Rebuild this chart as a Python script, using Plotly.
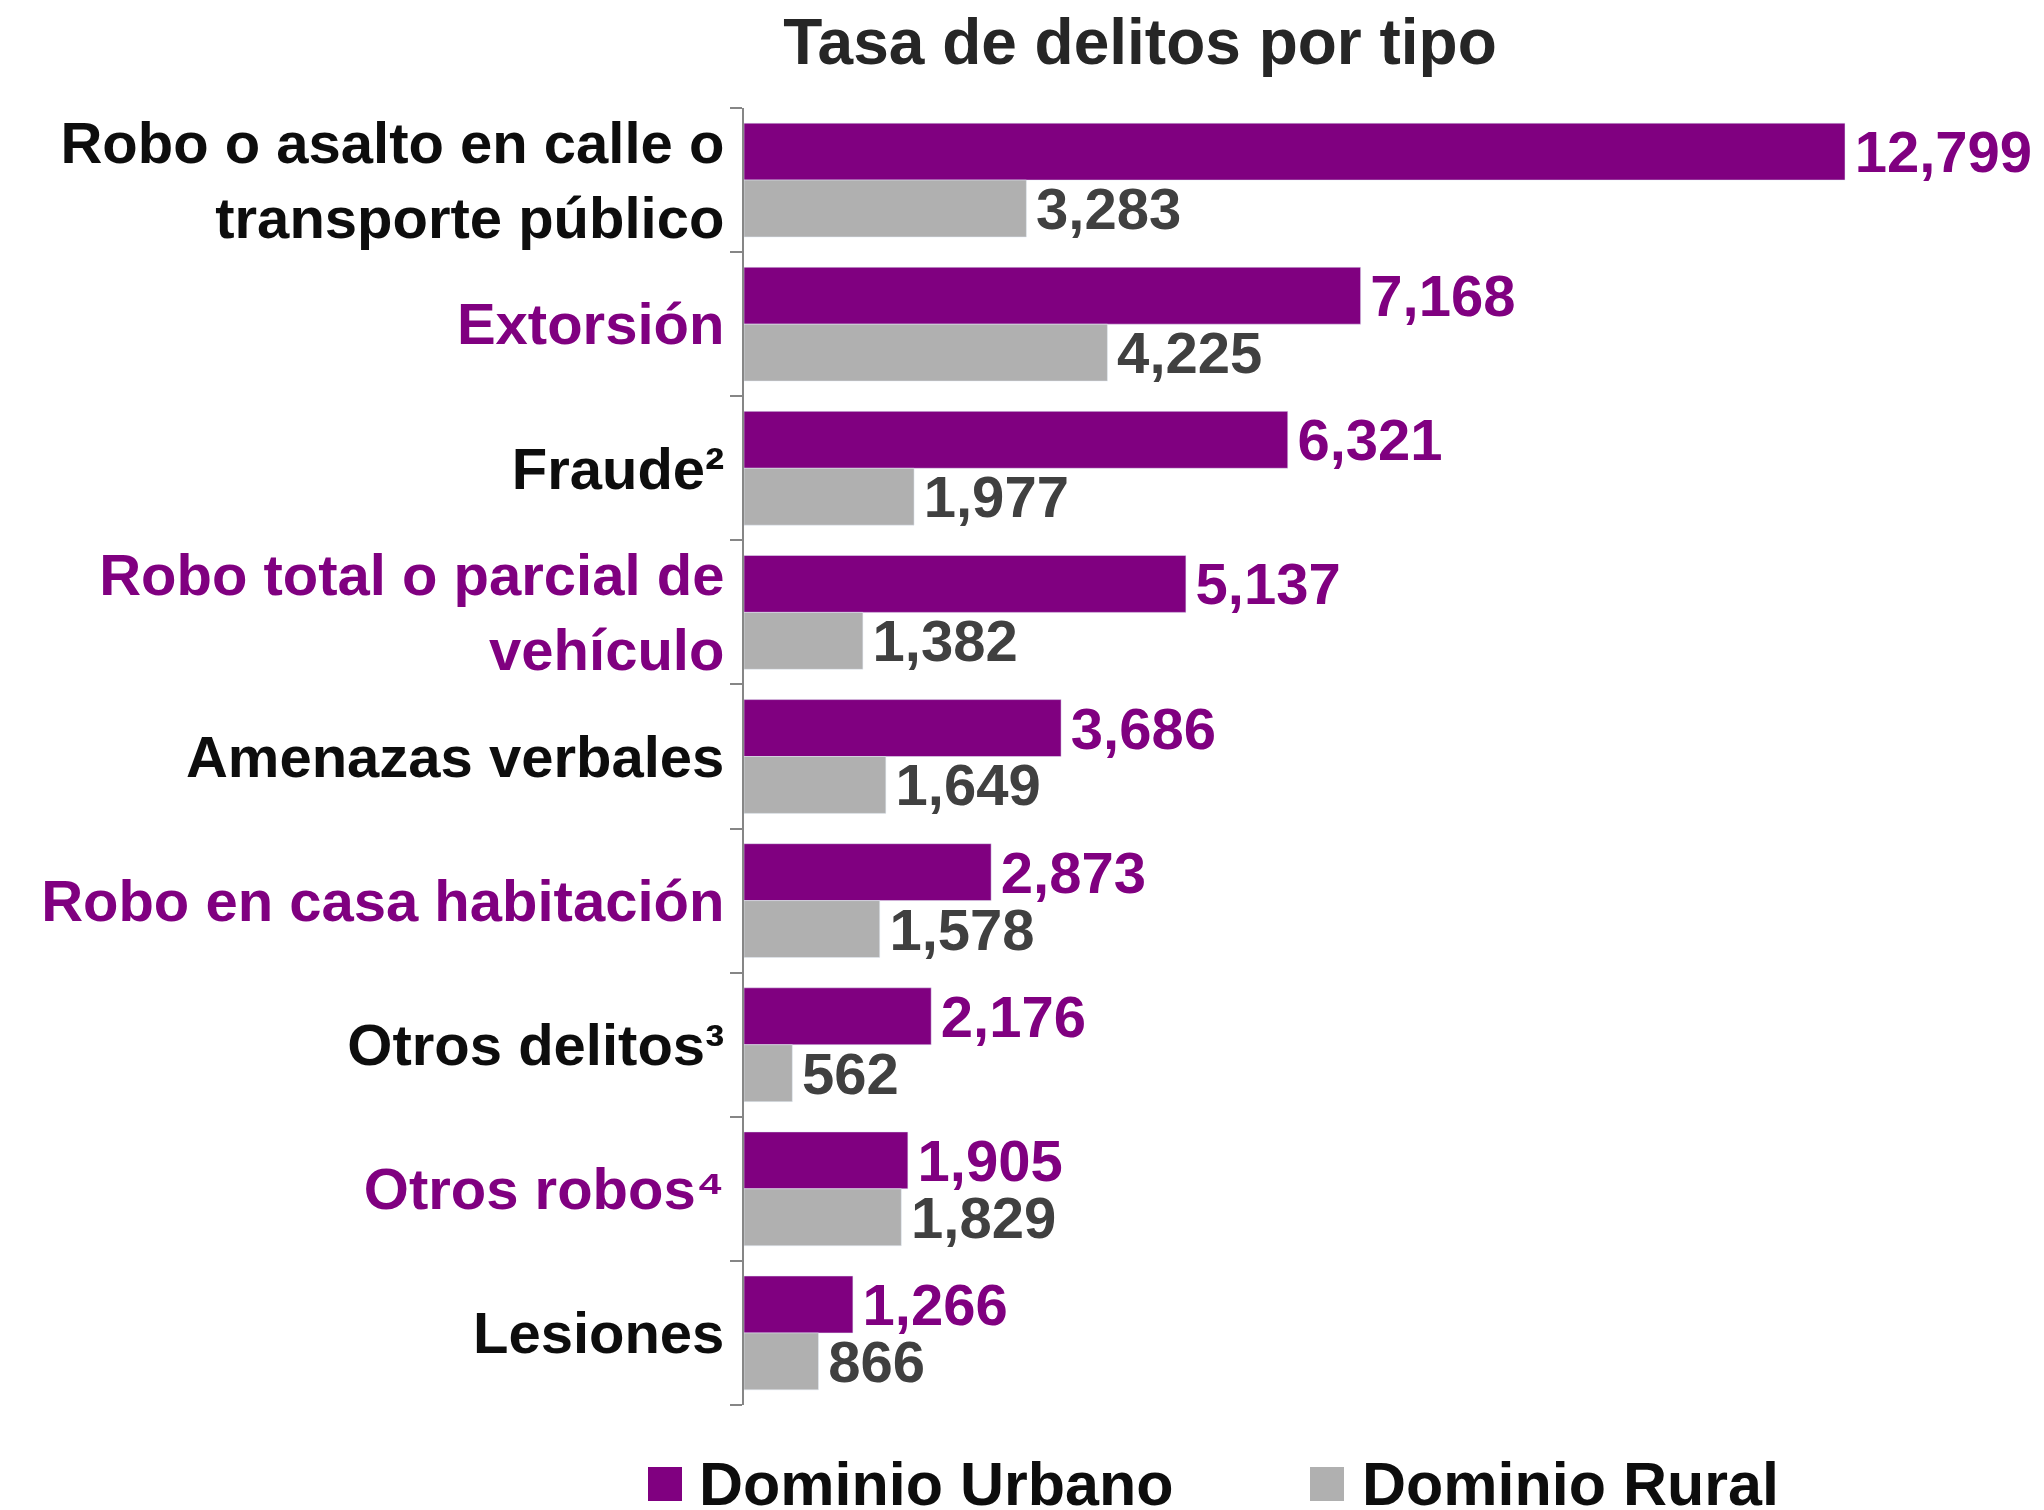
import plotly.graph_objects as go

categories = [
    "Robo o asalto en calle o<br>transporte público",
    "Extorsión",
    "Fraude²",
    "Robo total o parcial de<br>vehículo",
    "Amenazas verbales",
    "Robo en casa habitación",
    "Otros delitos³",
    "Otros robos⁴",
    "Lesiones",
]
urbano = [12799, 7168, 6321, 5137, 3686, 2873, 2176, 1905, 1266]
rural = [3283, 4225, 1977, 1382, 1649, 1578, 562, 1829, 866]
label_colors = ["#0d0d0d", "#800080", "#0d0d0d", "#800080", "#0d0d0d",
                "#800080", "#0d0d0d", "#800080", "#0d0d0d"]

PURPLE = "#800080"
GRAY = "#b0b0b0"
FONT = "Liberation Sans"

OFF = 8  # page body margin
W, H = 2044 - OFF, 1510 - OFF
L, R_EDGE, T, B_EDGE = 744 - OFF, 2000 - OFF, 108 - OFF, 1405 - OFF
pw, ph = R_EDGE - L, B_EDGE - T
xmax = 12799 * pw / (1845 - 744)

def px_x(p):
    return (p - OFF - L) / pw

def px_y(p):
    return (B_EDGE - (p - OFF)) / ph

PAD = "<span style='font-size:24px'> </span>"

fig = go.Figure()
fig.add_trace(go.Bar(
    y=categories, x=urbano, orientation="h", name="Dominio Urbano",
    marker=dict(color=PURPLE), texttemplate=PAD + "%{x:,}", textposition="outside",
    textfont=dict(family=FONT, size=58, color=PURPLE, weight="bold"),
    constraintext="none", cliponaxis=False, showlegend=False,
))
fig.add_trace(go.Bar(
    y=categories, x=rural, orientation="h", name="Dominio Rural",
    marker=dict(color=GRAY), texttemplate=PAD + "%{x:,}", textposition="outside",
    textfont=dict(family=FONT, size=58, color="#404040", weight="bold"),
    constraintext="none", cliponaxis=False, showlegend=False,
))

ticktext = [f'<span style="color:{c}">{t}</span>' for t, c in zip(categories, label_colors)]

fig.update_layout(
    width=W, height=H,
    margin=dict(l=L, r=W - R_EDGE, t=T, b=H - B_EDGE, pad=0),
    paper_bgcolor="white", plot_bgcolor="white",
    barmode="group", bargap=0.21, bargroupgap=0,
    title=dict(text="Tasa de delitos por tipo", x=(1140 - OFF) / W, xanchor="center",
               y=1 - (42 - OFF) / H, yanchor="middle",
               font=dict(family=FONT, size=64, color="#262626", weight="bold")),
    xaxis=dict(range=[0, xmax], visible=False, showgrid=False, zeroline=False),
    yaxis=dict(autorange="reversed", tickmode="array", tickvals=categories,
               ticktext=ticktext, tickson="boundaries", ticks="outside",
               ticklen=12, tickcolor="#868686", tickwidth=2,
               showline=True, linecolor="#868686", linewidth=2,
               showgrid=False, ticklabelstandoff=6,
               tickfont=dict(family=FONT, size=58, color="#0d0d0d", weight="bold")),
)

# manual legend
legend_items = [("Dominio Urbano", PURPLE, 648, 697), ("Dominio Rural", GRAY, 1310, 1360)]
for name, col, sx, tx in legend_items:
    fig.add_shape(type="rect", xref="paper", yref="paper",
                  x0=px_x(sx), x1=px_x(sx + 34), y0=px_y(1467), y1=px_y(1501),
                  fillcolor=col, line=dict(width=0))
    fig.add_annotation(text=name, xref="paper", yref="paper", x=px_x(tx), y=px_y(1484),
                       xanchor="left", yanchor="middle", showarrow=False,
                       font=dict(family=FONT, size=61, color="#0d0d0d", weight="bold"))

fig.write_html("out.html")
